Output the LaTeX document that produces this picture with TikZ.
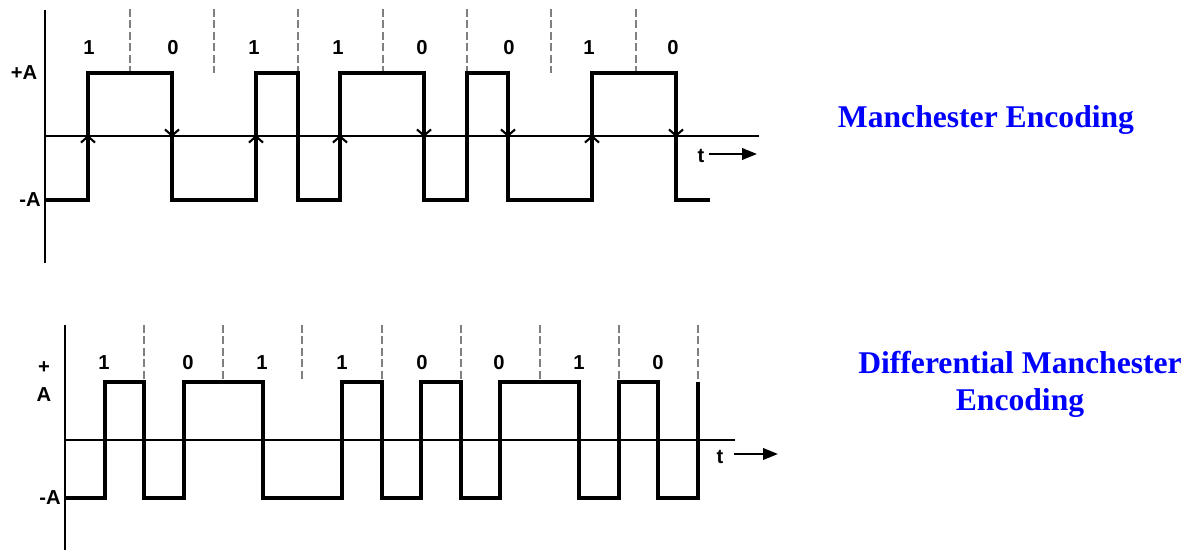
\documentclass[tikz,border=0pt]{standalone}
\usepackage{fontspec}
\setmainfont{Liberation Serif}
\newfontfamily\sigfont{Liberation Sans}
\usetikzlibrary{arrows.meta}

\tikzset{
  wave/.style={line width=2pt, line join=miter},
  axis/.style={line width=0.8pt},
  slot/.style={gray, line width=0.6pt, dash pattern=on 4.5pt off 2pt},
  bitlabel/.style={font=\sigfont\bfseries\fontsize{11.5}{13}\selectfont, inner sep=0pt},
  title/.style={font=\bfseries\fontsize{18}{21}\selectfont, text=blue, align=center, inner sep=0pt},
  edgemark/.style={line width=1.2pt, -{Straight Barb[length=3.5pt,width=8pt]}},
  timearrow/.style={line width=1.3pt, -{Triangle[length=8.5pt,width=6.5pt]}},
}

\begin{document}
\begin{tikzpicture}[x=0.02cm,y=-0.02cm]
\useasboundingbox (0,0) rectangle (1194,550);
% Manchester
\draw[axis] (45,10)-- (45,263);
\draw[axis] (45,136)-- (759,136);
\foreach \x in {130,214,298,383,467,551,636}
  \draw[slot] (\x,9)-- (\x,73);
\draw[wave] (45,200)-- (88,200)-- (88,73)-- (172,73)-- (172,200)-- (256,200)-- (256,73)-- (298,73)-- (298,200)-- (340,200)-- (340,73)-- (424,73)-- (424,200)-- (467,200)-- (467,73)-- (508,73)-- (508,200)-- (592,200)-- (592,73)-- (676,73)-- (676,200)-- (710,200);
% rising / falling marks at mid-bit
\foreach \x in {88,256,340,592}
  \draw[edgemark] (\x,147)-- (\x,135);
\foreach \x in {172,424,508,676}
  \draw[edgemark] (\x,125)-- (\x,137);
\foreach \x/\b [count=\i] in {89/1,173/0,254/1,338/1,422/0,509/0,589/1,673/0}
  \node[bitlabel] (mbit\i) at (\x,48) {\b};
\node[bitlabel] (mhigh) at (24,73) {+A};
\node[bitlabel] (mlow) at (30,200) {-A};
\node[bitlabel] (mt) at (701,156) {t};
\coordinate (mt0) at (709,154);
\coordinate (mt1) at (757,154);
\draw[timearrow] (mt0)-- (mt1);
\node[title] (mtitle) at (986,120) {Manchester Encoding};

% Differential Manchester
\draw[axis] (65,325)-- (65,550);
\draw[axis] (65,440)-- (735,440);
\foreach \x in {144,223,302,382,461,540,619,698}
  \draw[slot] (\x,325)-- (\x,382);
\draw[wave] (65,498)-- (105,498)-- (105,382)-- (144,382)-- (144,498)-- (184,498)-- (184,382)-- (263,382)-- (263,498)-- (342,498)-- (342,382)-- (382,382)-- (382,498)-- (421,498)-- (421,382)-- (461,382)-- (461,498)-- (500,498)-- (500,382)-- (579,382)-- (579,498)-- (619,498)-- (619,382)-- (658,382)-- (658,498)-- (698,498)-- (698,382);
\foreach \x/\b [count=\i] in {104/1,188/0,262/1,342/1,422/0,499/0,579/1,658/0}
  \node[bitlabel] (dbit\i) at (\x,363) {\b};
\node[bitlabel, align=center] (dhigh) at (44,382) {+\\[3pt]A};
\node[bitlabel] (dlow) at (50,498) {-A};
\node[bitlabel] (dt) at (720,457) {t};
\coordinate (dt0) at (734,454);
\coordinate (dt1) at (778,454);
\draw[timearrow] (dt0)-- (dt1);
\node[title] (dtitle) at (1020,384) {Differential Manchester\\Encoding};
\end{tikzpicture}
\end{document}
